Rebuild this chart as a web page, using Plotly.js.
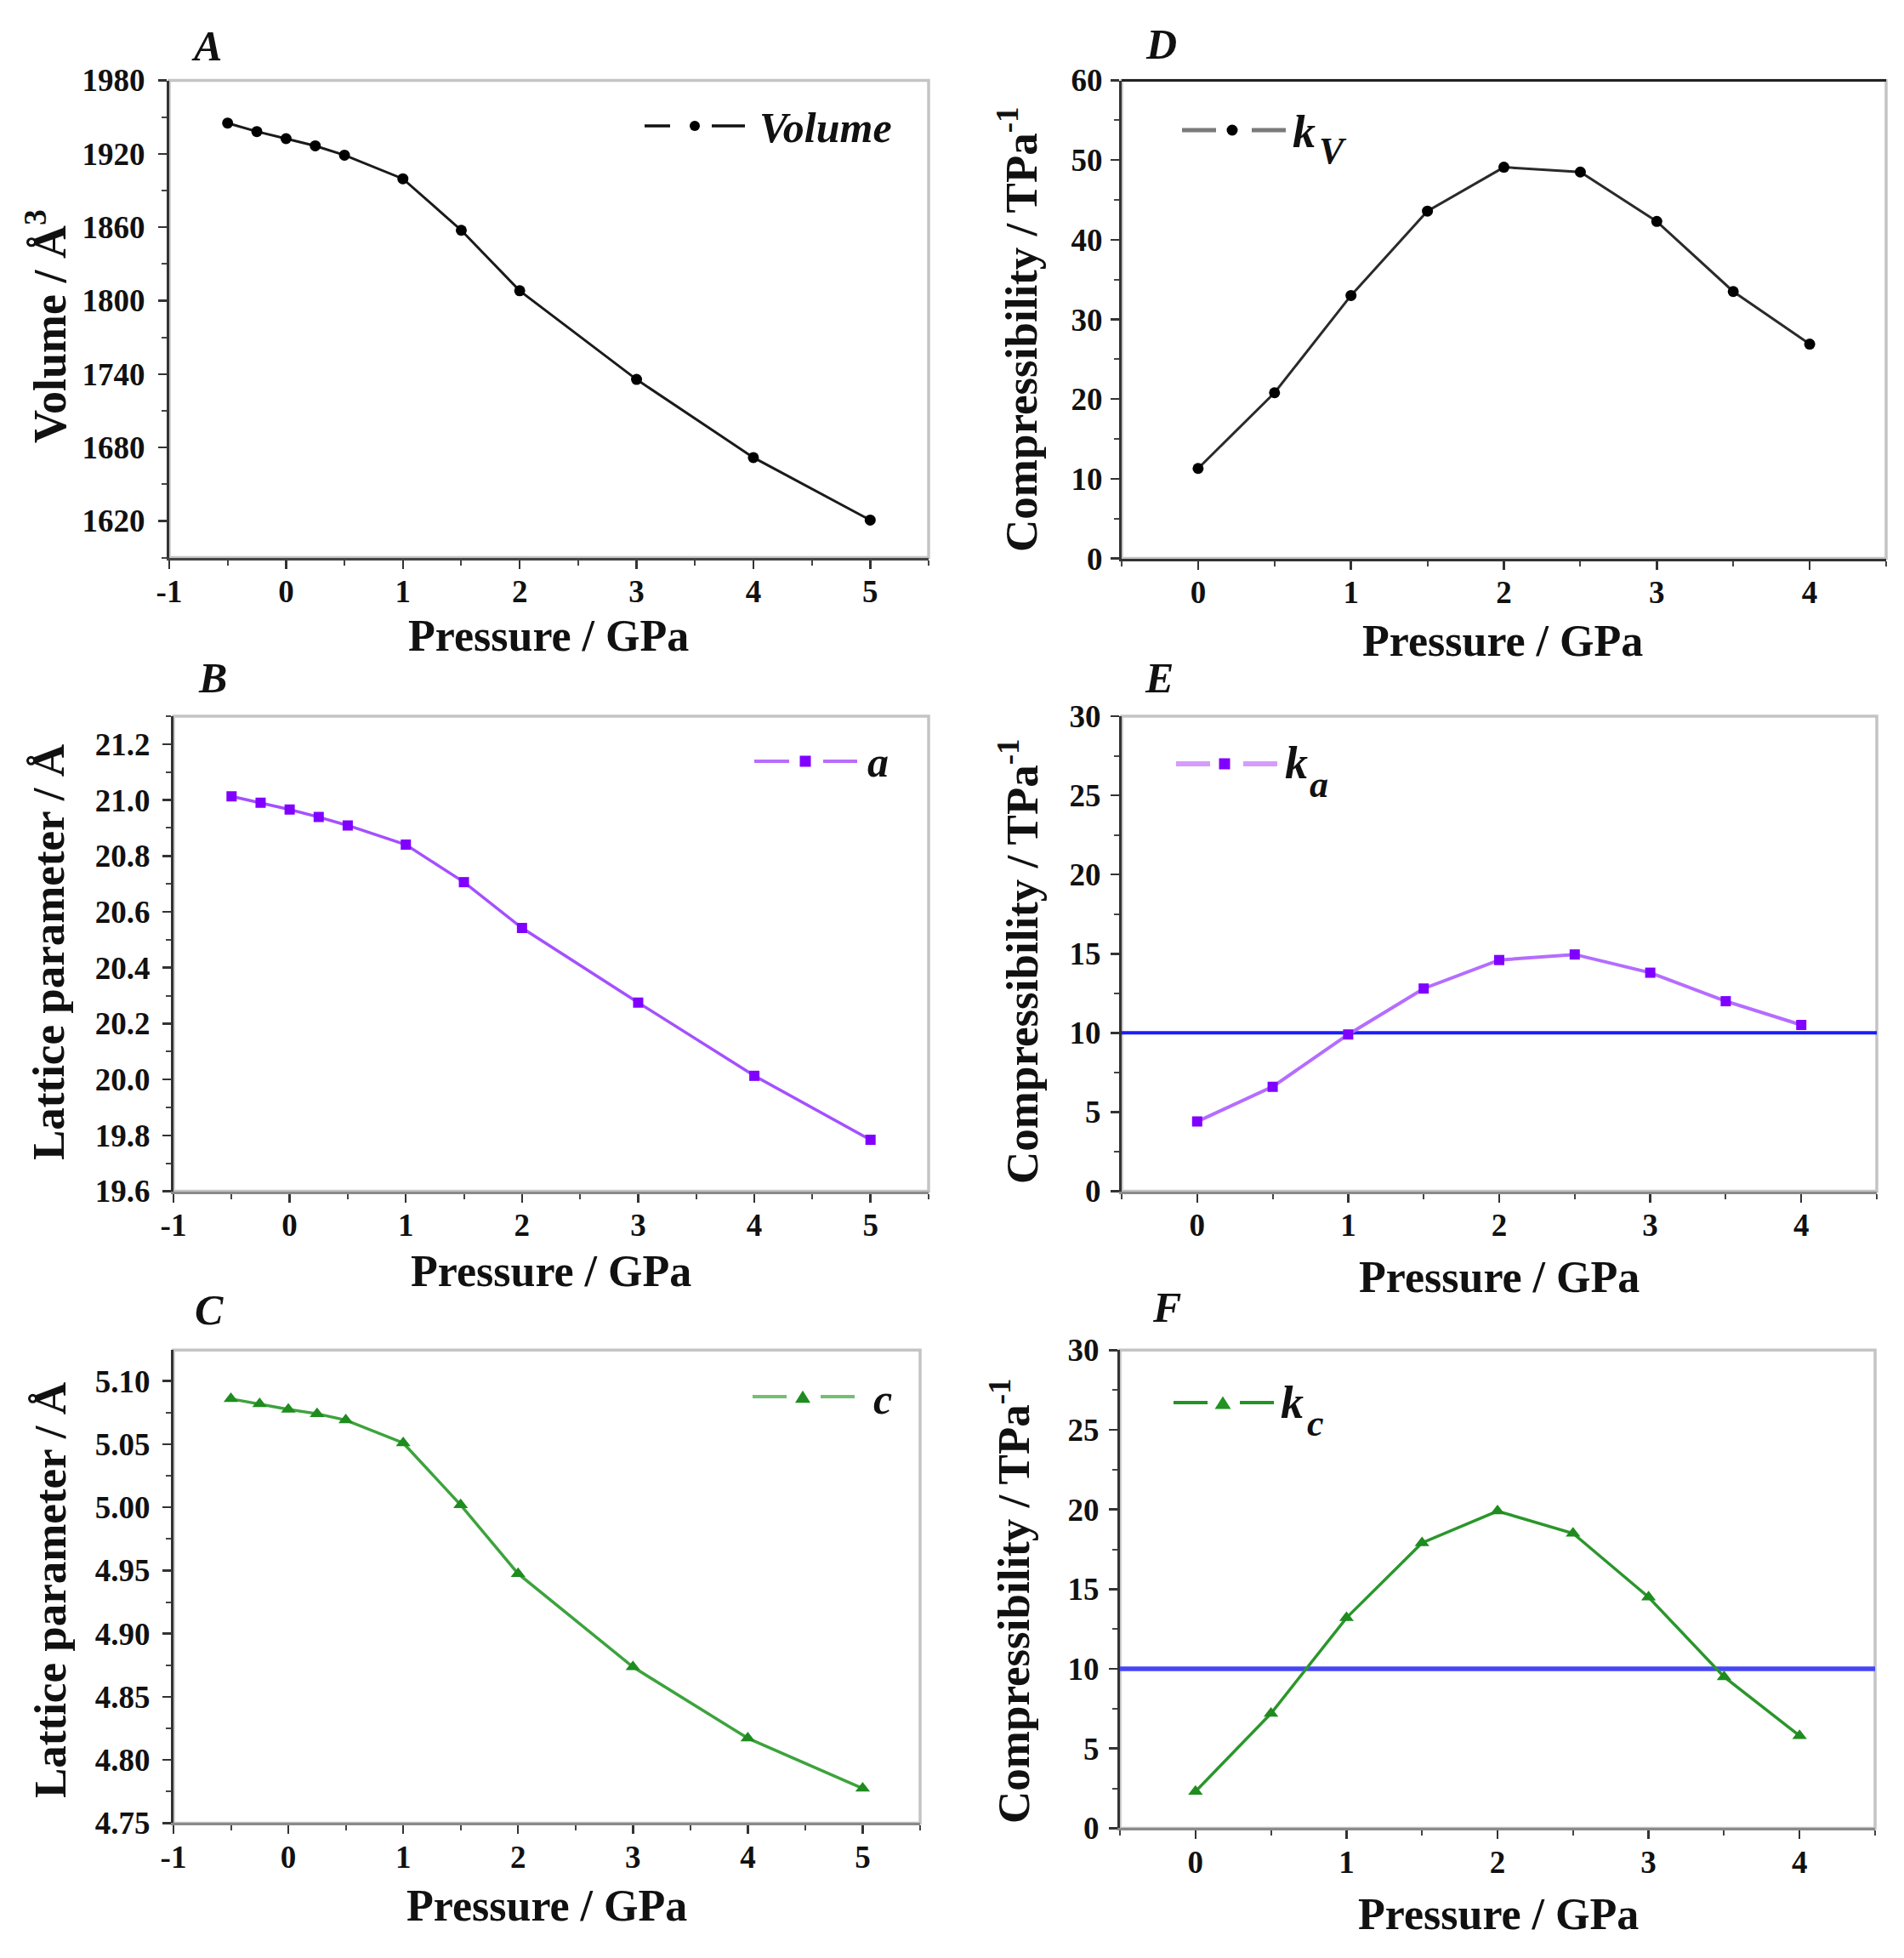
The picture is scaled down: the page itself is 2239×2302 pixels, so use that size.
<!DOCTYPE html>
<html>
<head>
<meta charset="utf-8">
<script src="https://cdn.plot.ly/plotly-3.0.1.min.js"></script>
<style>
  html, body { margin: 0; padding: 0; background: #fff; }
  #chart { width: 2239px; height: 2302px; }
</style>
</head>
<body>
<div id="chart"></div>
<script>
// ---- Data -------------------------------------------------------------
// Pressure points (GPa) for cell volume and lattice parameters
const pressureCell = [-0.5, -0.25, 0, 0.25, 0.5, 1, 1.5, 2, 3, 4, 5];
// Pressure points (GPa) for compressibilities
const pressureComp = [0, 0.5, 1, 1.5, 2, 2.5, 3, 3.5, 4];

// Unit-cell volume (Å^3)
const cellVolume = [1945.1, 1938.2, 1932.4, 1926.5, 1918.9, 1899.6, 1857.5, 1808.1, 1735.6, 1671.8, 1620.7];
// Lattice parameter a (Å)
const latticeA = [21.013, 20.990, 20.966, 20.939, 20.909, 20.840, 20.706, 20.542, 20.275, 20.013, 19.784];
// Lattice parameter c (Å)
const latticeC = [5.0859, 5.0819, 5.0775, 5.0741, 5.0691, 5.0510, 5.0019, 4.9475, 4.8736, 4.8172, 4.7775];

// Compressibilities (TPa^-1)
const kV = [11.3, 20.8, 33.0, 43.6, 49.1, 48.5, 42.3, 33.5, 26.9];
const kA = [4.4, 6.6, 9.9, 12.8, 14.6, 14.95, 13.8, 12.0, 10.5];
const kC = [2.3, 7.2, 13.2, 17.9, 19.9, 18.5, 14.5, 9.5, 5.8];

// Reference compressibility level (TPa^-1)
const kReference = 10;

// Tick labels
const cellTickVals = [-1, 0, 1, 2, 3, 4, 5];
const cellTickText = ['-1', '0', '1', '2', '3', '4', '5'];
const compTickVals = [0, 1, 2, 3, 4];
const compTickText = ['0', '1', '2', '3', '4'];

// ---- Layout helpers ---------------------------------------------------
const W = 2239, H = 2302;
const fx = px => px / W;
const fy = py => 1 - py / H;
const SERIF = '"Liberation Serif", "Times New Roman", serif';

const tickFont = { family: SERIF, size: 37, color: '#111', weight: 'bold' };

function makeX(box, range, vals, text, lineColor, anchor) {
  return {
    domain: [fx(box[0]), fx(box[1])], range: range, anchor: anchor,
    showline: true, linecolor: lineColor, linewidth: 3,
    ticks: 'outside', ticklen: 10, tickwidth: 2.5, tickcolor: '#333',
    tickmode: 'array', tickvals: vals, ticktext: text,
    minor: { dtick: 0.5, tick0: 0, ticks: 'outside', ticklen: 6, tickwidth: 2, tickcolor: '#444' },
    tickfont: tickFont, ticklabelstandoff: -5,
    showgrid: false, zeroline: false, fixedrange: true
  };
}

function makeY(box, range, tick0, dtick, minorDtick, fmt, standoff, anchor) {
  return {
    domain: [fy(box[3]), fy(box[2])], range: range, anchor: anchor,
    showline: true, linecolor: '#333', linewidth: 3,
    ticks: 'outside', ticklen: 10, tickwidth: 2.5, tickcolor: '#333',
    tickmode: 'linear', tick0: tick0, dtick: dtick, tickformat: fmt,
    minor: { dtick: minorDtick, tick0: tick0, ticks: 'outside', ticklen: 6, tickwidth: 2, tickcolor: '#444' },
    tickfont: tickFont, ticklabelstandoff: standoff,
    showgrid: false, zeroline: false, fixedrange: true
  };
}

// Plot boxes in pixels: [left, right, top, bottom]
const boxA = [199, 1092, 94.5, 655.6];
const boxB = [204, 1092, 842, 1400.5];
const boxC = [204, 1082, 1587.3, 2143.4];
const boxD = [1319, 2218, 94.5, 656.6];
const boxE = [1319, 2207, 842, 1400.5];
const boxF = [1317, 2205, 1587.3, 2149.4];

// ---- Traces -----------------------------------------------------------
const purpleMarker = '#8000ff';
const greenMarker = '#1e8c1e';

const traces = [
  { x: pressureCell, y: cellVolume, xaxis: 'x', yaxis: 'y', mode: 'lines+markers', name: 'Volume',
    line: { color: '#1a1a1a', width: 3 }, marker: { symbol: 'circle', size: 13, color: '#000' } },
  { x: pressureCell, y: latticeA, xaxis: 'x2', yaxis: 'y2', mode: 'lines+markers', name: 'a',
    line: { color: '#a450ff', width: 3.5 }, marker: { symbol: 'square', size: 12, color: purpleMarker } },
  { x: pressureCell, y: latticeC, xaxis: 'x3', yaxis: 'y3', mode: 'lines+markers', name: 'c',
    line: { color: '#3da33d', width: 3.5 }, marker: { symbol: 'triangle-up', size: 15, color: greenMarker } },
  { x: pressureComp, y: kV, xaxis: 'x4', yaxis: 'y4', mode: 'lines+markers', name: 'kV',
    line: { color: '#2a2a2a', width: 3 }, marker: { symbol: 'circle', size: 13, color: '#000' } },
  { x: pressureComp, y: kA, xaxis: 'x5', yaxis: 'y5', mode: 'lines+markers', name: 'ka',
    line: { color: '#b46dff', width: 4 }, marker: { symbol: 'square', size: 12, color: purpleMarker } },
  { x: pressureComp, y: kC, xaxis: 'x6', yaxis: 'y6', mode: 'lines+markers', name: 'kc',
    line: { color: '#2b962b', width: 3.5 }, marker: { symbol: 'triangle-up', size: 15, color: greenMarker } }
];

// ---- Shapes: frames, reference lines, legend samples --------------------
const shapes = [];
[['x', 'y'], ['x2', 'y2'], ['x3', 'y3'], ['x4', 'y4'], ['x5', 'y5'], ['x6', 'y6']].forEach(([xa, ya]) => {
  shapes.push({ type: 'rect', xref: xa + ' domain', yref: ya + ' domain', x0: 0, x1: 1, y0: 0, y1: 1,
    line: { color: '#c4c4c4', width: 3.5 }, layer: 'below' });
});
// dark top edge of the volume-compressibility frame
shapes.push({ type: 'line', xref: 'x4 domain', yref: 'y4 domain', x0: 0, x1: 1, y0: 1, y1: 1,
  line: { color: '#222', width: 3 }, layer: 'above' });

// reference compressibility level in panels E and F
shapes.push({ type: 'line', xref: 'x5 domain', yref: 'y5', x0: 0, x1: 1, y0: kReference, y1: kReference,
  line: { color: '#1c1cff', width: 4 }, layer: 'below' });
shapes.push({ type: 'line', xref: 'x6 domain', yref: 'y6', x0: 0, x1: 1, y0: kReference, y1: kReference,
  line: { color: '#4646f5', width: 5.5 }, layer: 'below' });

// legend samples: dash - marker - dash
const legendSamples = [
  { y: 148, segs: [[758, 788], [837, 876]], color: '#111', width: 3.5, m: 'circle', cx: 817, s: 12, mc: '#000' },
  { y: 895, segs: [[887, 928], [968, 1008]], color: '#b86cff', width: 4, m: 'square', cx: 947, s: 13, mc: purpleMarker },
  { y: 1642, segs: [[885, 925], [965, 1005]], color: '#74bf74', width: 4, m: 'triangle', cx: 944, s: 18, mc: greenMarker },
  { y: 153, segs: [[1390, 1430], [1472, 1512]], color: '#7a7a7a', width: 5, m: 'circle', cx: 1449, s: 13, mc: '#000' },
  { y: 898, segs: [[1383, 1423], [1462, 1502]], color: '#d49cff', width: 6, m: 'square', cx: 1440, s: 13, mc: purpleMarker },
  { y: 1649, segs: [[1380, 1420], [1458, 1498]], color: '#239323', width: 4, m: 'triangle', cx: 1438, s: 19, mc: '#229222' }
];
legendSamples.forEach(L => {
  L.segs.forEach(([a, b]) => shapes.push({ type: 'line', xref: 'paper', yref: 'paper',
    x0: fx(a), x1: fx(b), y0: fy(L.y), y1: fy(L.y), line: { color: L.color, width: L.width } }));
  const r = L.s / 2;
  if (L.m === 'circle' || L.m === 'square') {
    shapes.push({ type: L.m === 'circle' ? 'circle' : 'rect', xref: 'paper', yref: 'paper',
      x0: fx(L.cx - r), x1: fx(L.cx + r), y0: fy(L.y + r), y1: fy(L.y - r),
      fillcolor: L.mc, line: { width: 0 } });
  } else {
    const h = L.s * 0.8;
    shapes.push({ type: 'path', xref: 'paper', yref: 'paper',
      path: `M ${fx(L.cx - r)} ${fy(L.y + h / 2)} L ${fx(L.cx + r)} ${fy(L.y + h / 2)} L ${fx(L.cx)} ${fy(L.y - h / 2)} Z`,
      fillcolor: L.mc, line: { width: 0 } });
  }
});

// ---- Annotations: titles, panel letters, legend text -------------------
const annotations = [];
function txt(text, x, y, size, opts) {
  annotations.push(Object.assign({ text: text, x: fx(x), y: fy(y), xref: 'paper', yref: 'paper',
    showarrow: false, xanchor: 'center', yanchor: 'middle',
    font: { family: SERIF, size: size, color: '#111' } }, opts || {}));
}

// panel letters
txt('<b><i>A</i></b>', 243, 54, 50);
txt('<b><i>B</i></b>', 250, 797, 50);
txt('<b><i>C</i></b>', 246, 1540, 50);
txt('<b><i>D</i></b>', 1365, 52, 50);
txt('<b><i>E</i></b>', 1363, 797, 50);
txt('<b><i>F</i></b>', 1372, 1537, 50);

// x-axis titles
txt('<b>Pressure / GPa</b>', 645, 747, 52);
txt('<b>Pressure / GPa</b>', 648, 1494, 52);
txt('<b>Pressure / GPa</b>', 643, 2240, 52);
txt('<b>Pressure / GPa</b>', 1767, 753, 52);
txt('<b>Pressure / GPa</b>', 1763, 1501, 52);
txt('<b>Pressure / GPa</b>', 1762, 2250, 52);

// y-axis titles
txt('<b>Volume / Å<sup>3</sup></b>', 54, 384, 54, { textangle: -90 });
txt('<b>Lattice parameter / Å</b>', 57, 1120, 53, { textangle: -90 });
txt('<b>Lattice parameter / Å</b>', 59, 1870, 53, { textangle: -90 });
txt('<b>Compressibility / TPa<sup>-1</sup></b>', 1197, 387, 53, { textangle: -90 });
txt('<b>Compressibility / TPa<sup>-1</sup></b>', 1198, 1130, 53, { textangle: -90 });
txt('<b>Compressibility / TPa<sup>-1</sup></b>', 1188, 1882, 53, { textangle: -90 });

// legend labels
txt('<b><i>Volume</i></b>', 891, 150, 50, { xanchor: 'left' });
txt('<b><i>a</i></b>', 1018, 896, 50, { xanchor: 'left' });
txt('<b><i>c</i></b>', 1025, 1645, 50, { xanchor: 'left' });
txt('<b><i>k</i></b>', 1518, 155, 54, { xanchor: 'left' });
txt('<b><i>V</i></b>', 1549, 177, 44, { xanchor: 'left' });
txt('<b><i>k</i></b>', 1509, 897, 54, { xanchor: 'left' });
txt('<b><i>a</i></b>', 1538, 922, 44, { xanchor: 'left' });
txt('<b><i>k</i></b>', 1504, 1649, 54, { xanchor: 'left' });
txt('<b><i>c</i></b>', 1535, 1673, 44, { xanchor: 'left' });

// ---- Layout -------------------------------------------------------------
const layout = {
  width: W, height: H,
  margin: { l: 0, r: 0, t: 0, b: 0 },
  paper_bgcolor: '#fff', plot_bgcolor: '#fff',
  showlegend: false,
  xaxis:  makeX(boxA, [-1, 5.5], cellTickVals, cellTickText, '#444', 'y'),
  yaxis:  makeY(boxA, [1590, 1980], 1620, 60, 30, 'd', 8, 'x'),
  xaxis2: makeX(boxB, [-1, 5.5], cellTickVals, cellTickText, '#8a8a8a', 'y2'),
  yaxis2: makeY(boxB, [19.6, 21.3], 19.6, 0.2, 0.1, '.1f', 7, 'x2'),
  xaxis3: makeX(boxC, [-1, 5.5], cellTickVals, cellTickText, '#8a8a8a', 'y3'),
  yaxis3: makeY(boxC, [4.75, 5.1245], 4.75, 0.05, 0.025, '.2f', 7, 'x3'),
  xaxis4: makeX(boxD, [-0.5, 4.5], compTickVals, compTickText, '#333', 'y4'),
  yaxis4: makeY(boxD, [0, 60], 0, 10, 5, 'd', 2, 'x4'),
  xaxis5: makeX(boxE, [-0.5, 4.5], compTickVals, compTickText, '#8a8a8a', 'y5'),
  yaxis5: makeY(boxE, [0, 30], 0, 5, 2.5, 'd', 4, 'x5'),
  xaxis6: makeX(boxF, [-0.5, 4.5], compTickVals, compTickText, '#8a8a8a', 'y6'),
  yaxis6: makeY(boxF, [0, 30], 0, 5, 2.5, 'd', 4, 'x6'),
  shapes: shapes,
  annotations: annotations
};

Plotly.newPlot('chart', traces, layout, { displayModeBar: false, staticPlot: true });
</script>
</body>
</html>
